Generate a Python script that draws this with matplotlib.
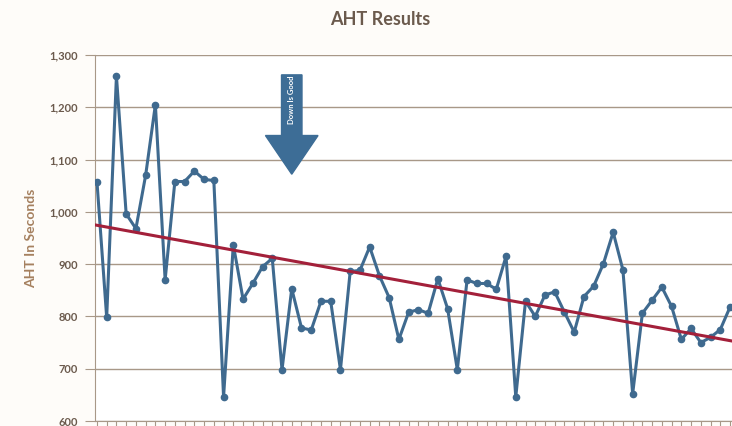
import numpy as np
import matplotlib
matplotlib.use("Agg")
import matplotlib.pyplot as plt
from matplotlib.ticker import FuncFormatter
from matplotlib.patches import FancyArrow

# AHT per period
aht = [1058, 798, 1260, 996, 968, 1070, 1205, 870, 1058, 1058, 1078, 1062, 1060, 646,
       937, 833, 863, 895, 911, 698, 853, 778, 774, 829, 829, 698, 886, 888, 933, 878,
       836, 756, 808, 813, 806, 872, 815, 698, 870, 863, 863, 852, 915, 646, 829, 800,
       841, 847, 808, 770, 838, 858, 901, 961, 889, 652, 806, 831, 856, 819, 756, 777,
       750, 760, 775, 818]
periods = np.arange(1, len(aht) + 1)

line_col = '#3f6a8f'
trend_col = '#a3203a'
grid_col = '#a89888'
text_col = '#6b5a4d'

plt.rcParams['font.family'] = ['Lato', 'DejaVu Sans']

fig = plt.figure(figsize=(7.32, 4.26), dpi=100)
fig.patch.set_facecolor('#fefcf9')
ax = fig.add_axes([95/732, 5/426, 637/732, 366/426])
ax.set_facecolor('white')

ax.plot(periods, aht, color=line_col, lw=2.2, marker='o', ms=4.5, zorder=3)

# linear trend line
k, b = np.polyfit(periods, aht, 1)
xt = np.array([0.8, 66.5])
ax.plot(xt, k * xt + b, color=trend_col, lw=2.2, zorder=4)

ax.set_xlim(0.8, 66.2)
ax.set_ylim(600, 1300)
ax.set_yticks(range(600, 1301, 100))
ax.yaxis.set_major_formatter(FuncFormatter(lambda v, p: f'{int(v):,}'))
ax.set_xticks(periods)
ax.set_xticklabels([])
ax.tick_params(axis='x', length=4, color=grid_col, direction='out')
ax.tick_params(axis='y', length=7, color=grid_col, labelsize=8, labelcolor=text_col, pad=5)
for lbl in ax.get_yticklabels():
    lbl.set_fontweight('bold')
ax.grid(axis='y', color=grid_col, lw=1.0)
ax.set_axisbelow(True)
for s in ['top', 'right']:
    ax.spines[s].set_visible(False)
ax.spines['left'].set_color(grid_col)
ax.spines['bottom'].set_color(grid_col)

ax.set_ylabel('AHT In Seconds', color='#a5805f', fontsize=10, fontweight='bold', labelpad=9)
fig.text(0.52, 0.955, 'AHT Results', ha='center', va='center', fontsize=13,
         fontweight='bold', color=text_col)

# "Down is Good" arrow
arr = FancyArrow(21.0, 1262, 0, -190, width=2.1, head_width=5.4, head_length=74,
                 length_includes_head=True, color='#3d6d96', zorder=5)
ax.add_patch(arr)
ax.text(21.0, 1215, 'Down Is Good', rotation=90, color='white', fontsize=5.5,
        fontweight='bold', ha='center', va='center', zorder=6)

fig.savefig('out.png', dpi=100, facecolor=fig.get_facecolor())
